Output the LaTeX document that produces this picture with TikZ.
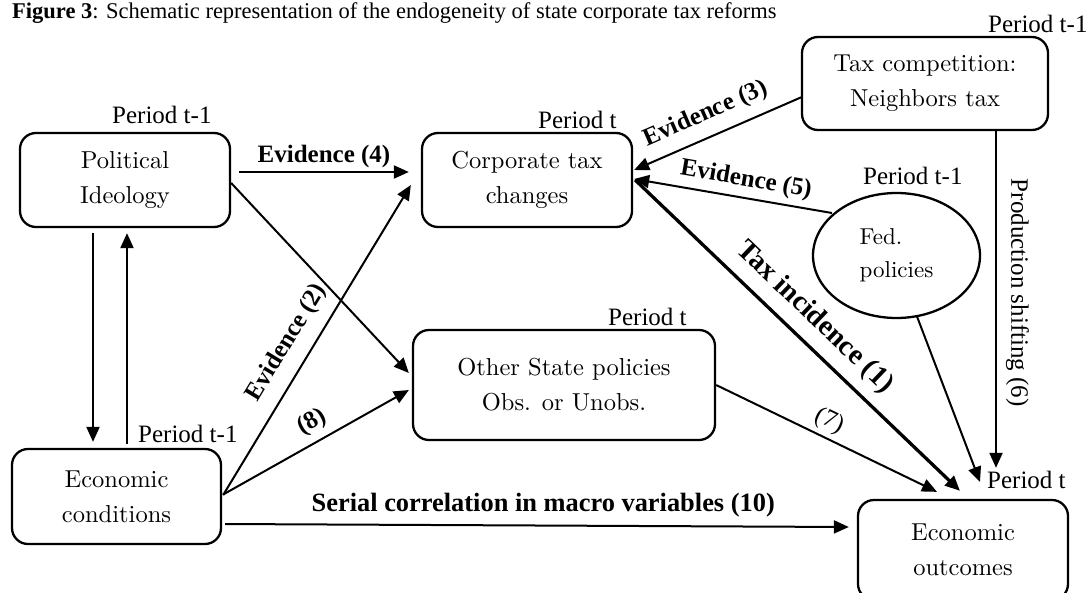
\documentclass[tikz,border=0pt]{standalone}
\usepackage{fontspec}
\newfontfamily\tnr{Liberation Serif}
\newfontfamily\boxfnt{lmroman10-regular}[Extension=.otf]
\usetikzlibrary{arrows.meta,calc,shapes.geometric}
\begin{document}
\begin{tikzpicture}[x=1pt,y=-1pt,
  box/.style={draw, line width=2.3pt, rounded corners=16pt, align=center,
    font=\boxfnt\fontsize{24.5}{35}\selectfont, inner sep=0pt},
  conn/.style={line width=2pt, -{Triangle[length=15pt,width=13pt]}},
  per/.style={font=\tnr\fontsize{25}{30}\selectfont, inner sep=0pt, anchor=base west},
  lbl/.style={font=\tnr\bfseries\fontsize{25}{30}\selectfont},
  lbr/.style={font=\tnr\fontsize{25}{30}\selectfont},
]
\useasboundingbox (0,0) rectangle (1089,592);

% title
\node[anchor=base west, inner sep=0pt, font=\tnr\fontsize{22.5}{27}\selectfont] (title) at (12,18)
  {\textbf{Figure 3}: Schematic representation of the endogeneity of state corporate tax reforms};

% boxes
\node[box, minimum width=210pt, minimum height=94pt] (pol) at (125,180) {Political\\Ideology};
\node[box, minimum width=210pt, minimum height=94pt] (corp) at (527,180) {Corporate tax\\changes};
\node[box, minimum width=246pt, minimum height=93pt] (taxc) at (925,83.5) {Tax competition:\\Neighbors tax};
\node[draw, ellipse, line width=2.3pt, minimum width=167pt, minimum height=125pt, inner sep=0pt,
  align=left, font=\boxfnt\fontsize{23}{33}\selectfont] (fed) at (896.5,255.5) {Fed.\\policies};
\node[box, minimum width=302pt, minimum height=110pt] (oth) at (564,385) {Other State policies\\Obs. or Unobs.};
\node[box, minimum width=209pt, minimum height=95pt] (econ) at (116.5,496.5) {Economic\\conditions};
\node[box, minimum width=210pt, minimum height=100pt] (out) at (963,550) {Economic\\outcomes};

% period labels
\node[per] (p1) at (988,32) {Period t-1};
\node[per] (p2) at (112,123) {Period t-1};
\node[per] (p3) at (538,128) {Period t};
\node[per] (p4) at (863,184) {Period t-1};
\node[per] (p5) at (608,325) {Period t};
\node[per] (p6) at (138,442) {Period t-1};
\node[per] (p7) at (987,488) {Period t};

% connectors
\draw[conn] ($(pol.east)+(8,-8)$) -- node[lbl, above, inner sep=3.5pt] {Evidence (4)} ($(corp.west)+(-12,-8)$);
\draw[conn] ($(pol.east)+(0,3)$) -- ($(oth.west)+(-3,-12)$);
\draw[conn] ($(econ.east)+(1,-1.5)$) -- node[lbl, above, sloped, pos=0.45, inner sep=12pt] {Evidence (2)} ($(corp.west)+(-10,5)$);
\draw[conn] ($(econ.east)+(1,-2)$) -- node[lbl, above, sloped, pos=0.53, inner sep=7pt] {(8)} ($(oth.west)+(-3,5)$);
\draw[conn] ($(pol.south)+(-32,5)$) -- ($(econ.north)+(-23.5,-6)$);
\draw[conn] ($(econ.north)+(10.5,-4)$) -- ($(pol.south)+(2,5)$);
\draw[conn] ($(taxc.west)+(1,13.5)$) -- node[lbl, above, sloped, pos=0.52, inner sep=10.5pt] {Evidence (3)} ($(corp.east)+(1,-10)$);
\draw[conn] ($(fed.center)+(-64.5,-42.5)$) -- node[lbl, above, sloped, pos=0.45, inner sep=5.5pt] {Evidence (5)} ($(corp.east)+(1,-1)$);
\draw[conn, line width=3.3pt] ($(corp.east)+(2,0)$) -- node[lbl, font=\tnr\bfseries\fontsize{28.5}{32}\selectfont, above, sloped, pos=0.5, inner sep=10pt] {Tax incidence (1)} ($(out.north)+(-3,-8)$);
\draw[conn] (oth.east) -- node[lbr, above, sloped, pos=0.48, inner sep=4.7pt] {(7)} ($(out.north)+(-26,-7)$);
\draw[conn] ($(fed.center)+(20.5,61)$) -- ($(out.north)+(17,-17)$);
\draw[conn] ($(taxc.south)+(71,0)$) -- node[lbr, rotate=-90, anchor=south, pos=0.48, inner sep=9pt] {Production shifting (6)} ($(out.north)+(33,-31)$);
\draw[conn] ($(econ.east)+(3,27.5)$) -- node[lbl, font=\tnr\bfseries\fontsize{26.4}{30}\selectfont, above, pos=0.51, inner sep=7pt] {Serial correlation in macro variables (10)} ($(out.west)+(-8,-23)$);
\end{tikzpicture}
\end{document}
